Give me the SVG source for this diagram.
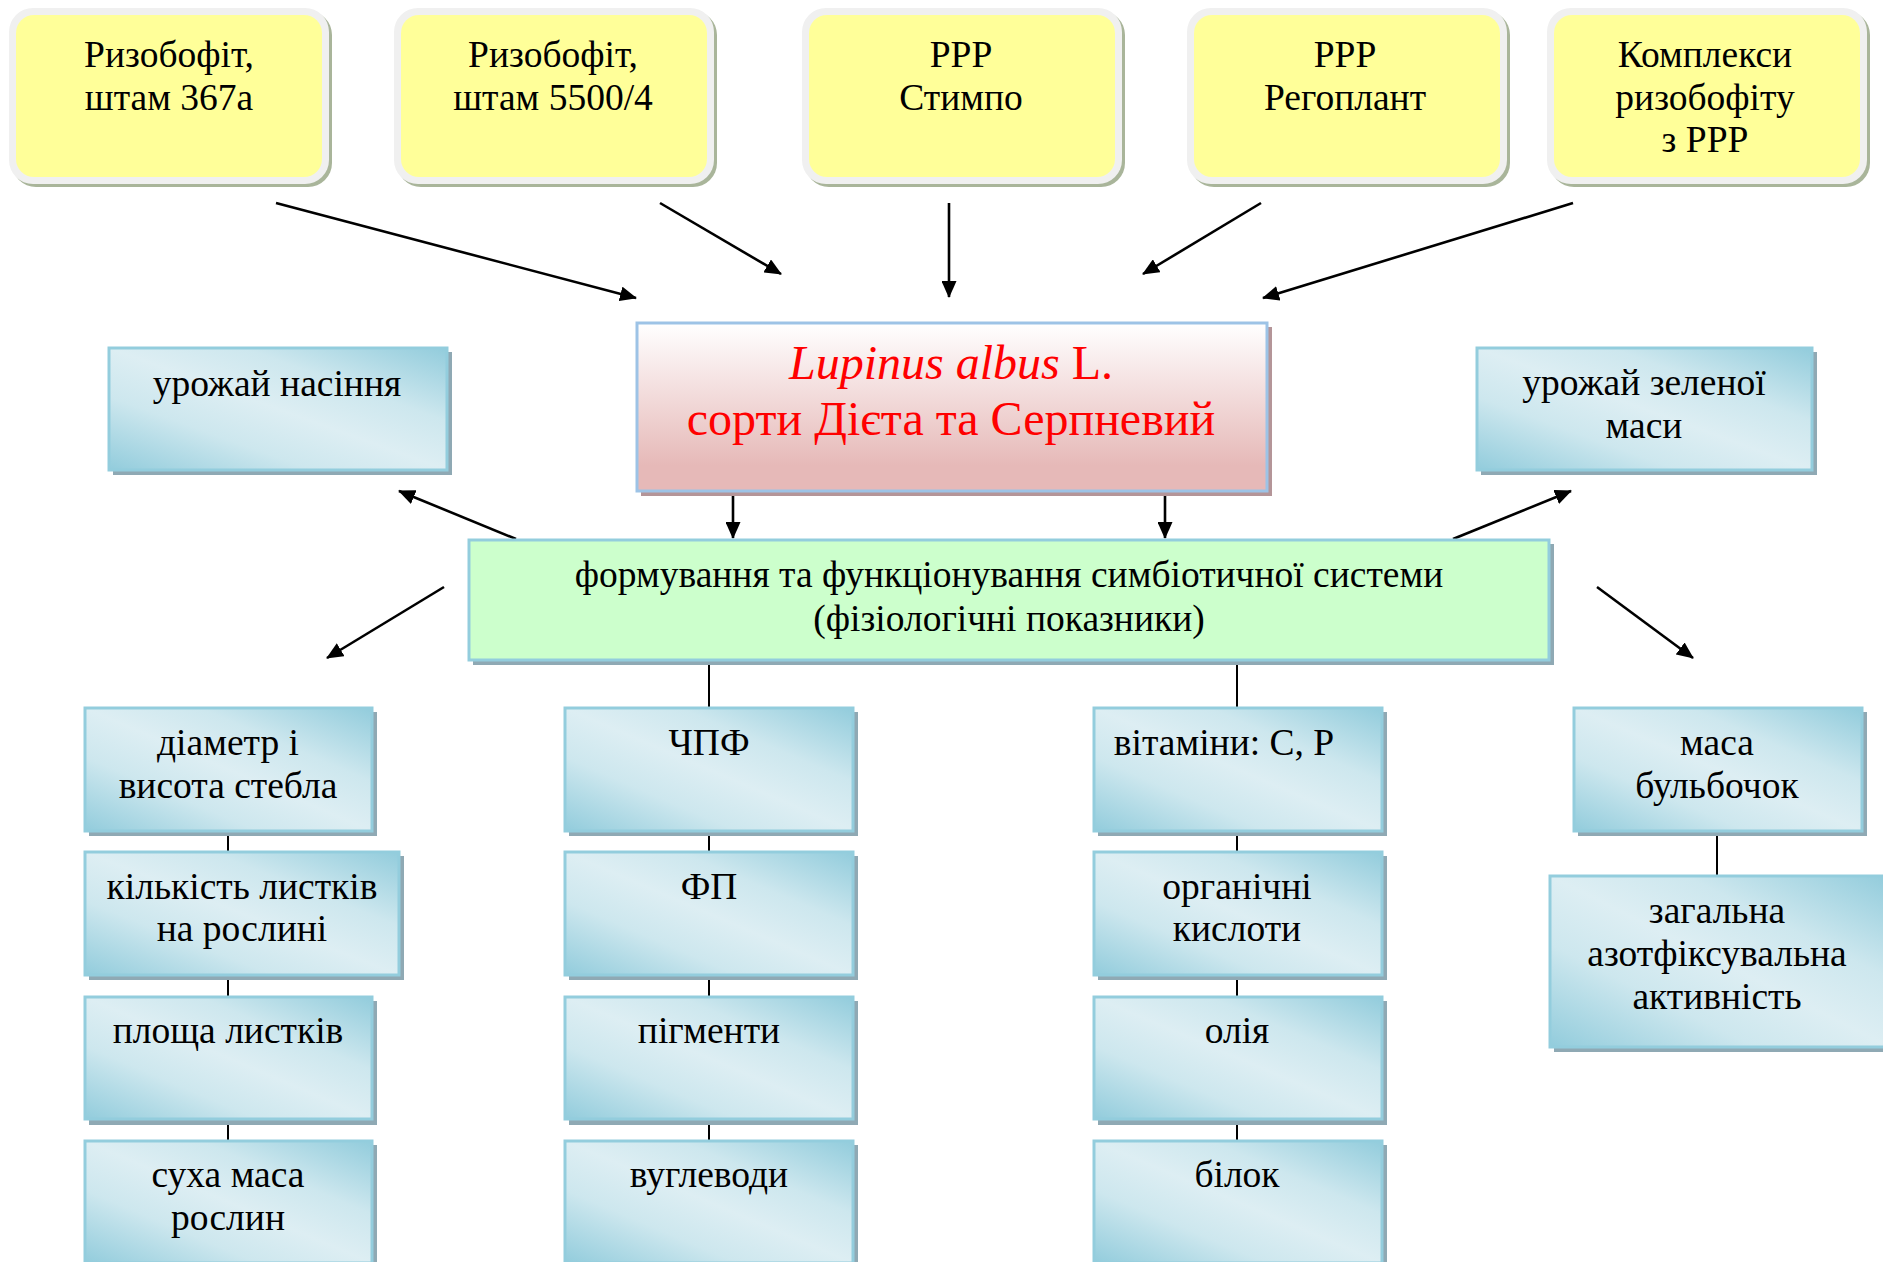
<svg xmlns="http://www.w3.org/2000/svg" width="1883" height="1262" viewBox="0 0 1883 1262">
<defs>
<linearGradient id="blueGrad" x1="0" y1="1" x2="1" y2="0">
<stop offset="0" stop-color="#92CCDC"/>
<stop offset="0.3" stop-color="#CDE7EE"/>
<stop offset="0.5" stop-color="#DDEEF3"/>
<stop offset="0.7" stop-color="#CDE7EE"/>
<stop offset="1" stop-color="#92CCDC"/>
</linearGradient>
<linearGradient id="pinkGrad" x1="0" y1="0" x2="0" y2="1">
<stop offset="0" stop-color="#FFFFFF"/>
<stop offset="0.85" stop-color="#E6B9B8"/>
<stop offset="1" stop-color="#E6B9B8"/>
</linearGradient>
<marker id="arr" markerUnits="userSpaceOnUse" markerWidth="17" markerHeight="15" viewBox="0 0 17 15" refX="16" refY="7.5" orient="auto">
<path d="M0,0 L17,7.5 L0,15 z" fill="#000"/>
</marker>
</defs>
<style>
text{font-family:"Liberation Serif","Times New Roman",serif;font-size:37.5px;fill:#000;text-anchor:middle}
.ysh{fill:#A9B59A}
.yfr{fill:#F0F0F0}
.yfi{fill:#FFFF99}
.bsh{fill:#8FA9B4}
.bx{fill:url(#blueGrad);stroke:#93CDDD;stroke-width:3}
.red{fill:#FF0000;font-size:48px}
.ar{stroke:#000;stroke-width:2.6;fill:none;marker-end:url(#arr)}
.ln{stroke:#000;stroke-width:2;fill:none}
</style>
<rect width="1883" height="1262" fill="#FFFFFF"/>

<g id="connectors">
<line class="ar" x1="276" y1="203" x2="636" y2="298"/>
<line class="ar" x1="660" y1="203" x2="781" y2="274"/>
<line class="ar" x1="949" y1="203" x2="949" y2="297"/>
<line class="ar" x1="1261" y1="203" x2="1143" y2="274"/>
<line class="ar" x1="1573" y1="203" x2="1263" y2="298"/>
<line class="ar" x1="733" y1="492" x2="733" y2="538"/>
<line class="ar" x1="1165" y1="492" x2="1165" y2="538"/>
<line class="ar" x1="516" y1="539" x2="399" y2="491"/>
<line class="ar" x1="1453" y1="539" x2="1571" y2="491"/>
<line class="ar" x1="444" y1="587" x2="327" y2="658"/>
<line class="ar" x1="1597" y1="587" x2="1693" y2="658"/>
<line class="ln" x1="709" y1="660" x2="709" y2="707"/>
<line class="ln" x1="1237" y1="660" x2="1237" y2="707"/>
<line class="ln" x1="228" y1="831" x2="228" y2="851"/>
<line class="ln" x1="228" y1="975" x2="228" y2="996"/>
<line class="ln" x1="228" y1="1119" x2="228" y2="1140"/>
<line class="ln" x1="709" y1="831" x2="709" y2="851"/>
<line class="ln" x1="709" y1="975" x2="709" y2="996"/>
<line class="ln" x1="709" y1="1119" x2="709" y2="1140"/>
<line class="ln" x1="1237" y1="831" x2="1237" y2="851"/>
<line class="ln" x1="1237" y1="975" x2="1237" y2="996"/>
<line class="ln" x1="1237" y1="1119" x2="1237" y2="1140"/>
<line class="ln" x1="1717" y1="831" x2="1717" y2="875"/>
</g>

<g id="n-rizo367">
<rect class="ysh" x="12" y="11" width="320" height="176" rx="24"/>
<rect class="yfr" x="9" y="8" width="320" height="176" rx="24"/>
<rect class="yfi" x="16" y="15" width="306" height="162" rx="18"/>
<text x="169" y="67">Ризобофіт,</text>
<text x="169" y="110">штам 367а</text>
</g>
<g id="n-rizo5500">
<rect class="ysh" x="397" y="11" width="320" height="176" rx="24"/>
<rect class="yfr" x="394" y="8" width="320" height="176" rx="24"/>
<rect class="yfi" x="401" y="15" width="306" height="162" rx="18"/>
<text x="553" y="67">Ризобофіт,</text>
<text x="553" y="110">штам 5500/4</text>
</g>
<g id="n-stympo">
<rect class="ysh" x="805" y="11" width="320" height="176" rx="24"/>
<rect class="yfr" x="802" y="8" width="320" height="176" rx="24"/>
<rect class="yfi" x="809" y="15" width="306" height="162" rx="18"/>
<text x="961" y="67">РРР</text>
<text x="961" y="110">Стимпо</text>
</g>
<g id="n-regoplant">
<rect class="ysh" x="1190" y="11" width="320" height="176" rx="24"/>
<rect class="yfr" x="1187" y="8" width="320" height="176" rx="24"/>
<rect class="yfi" x="1194" y="15" width="306" height="162" rx="18"/>
<text x="1345" y="67">РРР</text>
<text x="1345" y="110">Регоплант</text>
</g>
<g id="n-complex">
<rect class="ysh" x="1550" y="11" width="320" height="176" rx="24"/>
<rect class="yfr" x="1547" y="8" width="320" height="176" rx="24"/>
<rect class="yfi" x="1554" y="15" width="306" height="162" rx="18"/>
<text x="1705" y="67">Комплекси</text>
<text x="1705" y="110">ризобофіту</text>
<text x="1705" y="152">з РРР</text>
</g>

<g id="n-lupinus">
<rect x="641" y="327" width="631" height="169" fill="#B49598"/>
<rect x="637" y="323" width="630" height="168" fill="url(#pinkGrad)" stroke="#9DC3E6" stroke-width="3"/>
<text class="red" x="951" y="379"><tspan font-style="italic">Lupinus albus</tspan> L.</text>
<text class="red" x="951" y="435">сорти Дієта та Серпневий</text>
</g>

<g id="n-symb">
<rect x="473" y="544" width="1081" height="121" fill="#8FA9B4"/>
<rect x="469" y="540" width="1080" height="120" fill="#CCFFCC" stroke="#93CDDD" stroke-width="3"/>
<text x="1009" y="587">формування та функціонування симбіотичної системи</text>
<text x="1009" y="631">(фізіологічні показники)</text>
</g>

<g id="n-seed">
<rect class="bsh" x="113" y="352" width="339" height="123"/>
<rect class="bx" x="109" y="348" width="338" height="122"/>
<text x="277" y="396">урожай насіння</text>
</g>
<g id="n-green">
<rect class="bsh" x="1481" y="352" width="336" height="123"/>
<rect class="bx" x="1477" y="348" width="335" height="122"/>
<text x="1644" y="395">урожай зеленої</text>
<text x="1644" y="438">маси</text>
</g>

<g id="n-diam">
<rect class="bsh" x="89" y="712" width="288" height="124"/>
<rect class="bx" x="85" y="708" width="287" height="123"/>
<text x="228" y="755">діаметр і</text>
<text x="228" y="798">висота стебла</text>
</g>
<g id="n-leaves">
<rect class="bsh" x="89" y="856" width="315" height="124"/>
<rect class="bx" x="85" y="852" width="314" height="123"/>
<text x="242" y="899">кількість листків</text>
<text x="242" y="941">на рослині</text>
</g>
<g id="n-area">
<rect class="bsh" x="89" y="1001" width="288" height="124"/>
<rect class="bx" x="85" y="997" width="287" height="122"/>
<text x="228" y="1043">площа листків</text>
</g>
<g id="n-dry">
<rect class="bsh" x="89" y="1145" width="288" height="124"/>
<rect class="bx" x="85" y="1141" width="287" height="122"/>
<text x="228" y="1187">суха маса</text>
<text x="228" y="1230">рослин</text>
</g>

<g id="n-chpf">
<rect class="bsh" x="569" y="712" width="289" height="124"/>
<rect class="bx" x="565" y="708" width="288" height="123"/>
<text x="709" y="755">ЧПФ</text>
</g>
<g id="n-fp">
<rect class="bsh" x="569" y="856" width="289" height="124"/>
<rect class="bx" x="565" y="852" width="288" height="123"/>
<text x="709" y="899">ФП</text>
</g>
<g id="n-pigm">
<rect class="bsh" x="569" y="1001" width="289" height="124"/>
<rect class="bx" x="565" y="997" width="288" height="122"/>
<text x="709" y="1043">пігменти</text>
</g>
<g id="n-carb">
<rect class="bsh" x="569" y="1145" width="289" height="124"/>
<rect class="bx" x="565" y="1141" width="288" height="122"/>
<text x="709" y="1187">вуглеводи</text>
</g>

<g id="n-vit">
<rect class="bsh" x="1098" y="712" width="289" height="124"/>
<rect class="bx" x="1094" y="708" width="288" height="123"/>
<text x="1224" y="755">вітаміни: С, Р</text>
</g>
<g id="n-acids">
<rect class="bsh" x="1098" y="856" width="289" height="124"/>
<rect class="bx" x="1094" y="852" width="288" height="123"/>
<text x="1237" y="899">органічні</text>
<text x="1237" y="941">кислоти</text>
</g>
<g id="n-oil">
<rect class="bsh" x="1098" y="1001" width="289" height="124"/>
<rect class="bx" x="1094" y="997" width="288" height="122"/>
<text x="1237" y="1043">олія</text>
</g>
<g id="n-protein">
<rect class="bsh" x="1098" y="1145" width="289" height="124"/>
<rect class="bx" x="1094" y="1141" width="288" height="122"/>
<text x="1237" y="1187">білок</text>
</g>

<g id="n-nodmass">
<rect class="bsh" x="1578" y="712" width="289" height="124"/>
<rect class="bx" x="1574" y="708" width="288" height="123"/>
<text x="1717" y="755">маса</text>
<text x="1717" y="798">бульбочок</text>
</g>
<g id="n-nfix">
<rect class="bsh" x="1554" y="880" width="340" height="172"/>
<rect class="bx" x="1550" y="876" width="340" height="171"/>
<text x="1717" y="923">загальна</text>
<text x="1717" y="966">азотфіксувальна</text>
<text x="1717" y="1009">активність</text>
</g>
</svg>
